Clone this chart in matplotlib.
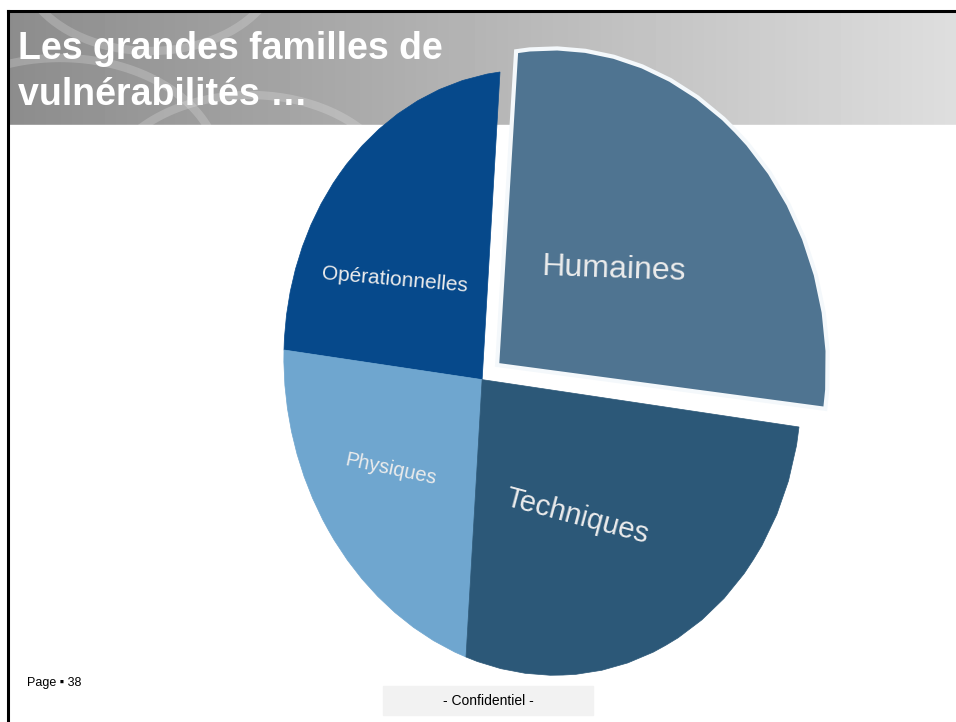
import numpy as np
import matplotlib
matplotlib.use("Agg")
import matplotlib.pyplot as plt
from matplotlib.transforms import Transform
from matplotlib.path import Path

plt.rcParams['font.family'] = ['Liberation Sans', 'DejaVu Sans']

# Données du graphique
categories = ['Humaines', 'Opérationnelles', 'Physiques', 'Techniques']
valeurs = [25, 25, 25, 25]
couleurs = ['#4f7491', '#06498b', '#6fa6cf', '#2c5878']

titre = 'Les grandes familles de\nvulnérabilités …'
page = 'Page ▪ 38'
pied = '- Confidentiel -'

R = 100.0
eclatement = [8, 0, 0, 0]

# style des étiquettes (rotation, taille, décalage)
rot_lab = [-2, -5, -12, -15]
taille_lab = [23, 15, 14.5, 21]
decal_lab = [(0, -6), (-2, -7), (0, 0), (0, 0)]

# coins de la perspective (en pixels) : droite, gauche, haut, bas
src = np.array([[R, 0], [-R, 0], [0, R], [0, -R]])
dst = np.array([[799, 427], [284, 350], [500, 72], [466, 657]])


def homographie(src, dst):
    A, b = [], []
    for (x, y), (u, v) in zip(src, dst):
        A.append([x, y, 1, 0, 0, 0, -u * x, -u * y]); b.append(u)
        A.append([0, 0, 0, x, y, 1, -v * x, -v * y]); b.append(v)
    h = np.linalg.solve(np.array(A, float), np.array(b, float))
    return np.append(h, 1).reshape(3, 3)


class Perspective(Transform):
    input_dims = output_dims = 2
    is_separable = False
    has_inverse = False

    def __init__(self, H):
        super().__init__()
        self.H = H

    def transform_non_affine(self, values):
        values = np.asarray(values, float)
        p = np.column_stack([values, np.ones(len(values))]) @ self.H.T
        return p[:, :2] / p[:, 2:3]

    def transform_path_non_affine(self, path):
        verts = np.vstack(path.to_polygons(closed_only=True))
        return Path(self.transform_non_affine(verts), closed=True)


persp = Perspective(homographie(src, dst))

fig = plt.figure(figsize=(9.56, 7.22), dpi=100)
ax = fig.add_axes([0, 0, 1, 1])

wedges, textes = ax.pie(valeurs, labels=categories, colors=couleurs,
                        explode=eclatement, startangle=0, radius=R,
                        labeldistance=0.55)
ax.set_aspect('auto')
ax.set_xlim(0, 956)
ax.set_ylim(722, 0)
ax.axis('off')

for i, w in enumerate(wedges):
    w.set_transform(persp + ax.transData)
    w.set_zorder(3)
    if eclatement[i] > 0:
        w.set_edgecolor('#f4f8fb')
        w.set_linewidth(3)
    else:
        w.set_edgecolor(couleurs[i])
        w.set_linewidth(0.5)

for t, r, s, (dx, dy) in zip(textes, rot_lab, taille_lab, decal_lab):
    x, y = t.get_position()
    t.set_position((x + dx, y + dy))
    t.set_transform(persp + ax.transData)
    t.set(rotation=r, fontsize=s, color='#ececec', ha='center', va='center',
          zorder=4)

# bandeau d'en-tête
grad = np.linspace(0.55, 0.87, 256)[None, :]
ax.imshow(grad, cmap='gray', vmin=0, vmax=1, aspect='auto',
          extent=[9, 956, 125, 11], zorder=1)
for cx, cy, rr in [(60, 170, 160), (250, 200, 150), (150, -40, 130)]:
    th = np.linspace(0, 2 * np.pi, 200)
    ax.plot(cx + rr * np.cos(th), cy + rr * 0.7 * np.sin(th), color='white',
            alpha=0.2, lw=6, zorder=1.5)
ax.axhspan(125, 722, color='white', zorder=1.6)
ax.axhspan(0, 10, color='white', zorder=1.6)
ax.axvspan(0, 8, color='white', zorder=1.6)

ax.text(18, 72, titre, color='white', fontsize=27, fontweight='bold',
        va='center', ha='left', linespacing=1.38, zorder=5)

# cadre
ax.plot([8, 956], [11, 11], color='black', lw=2.2, zorder=6)
ax.plot([8.5, 8.5], [11, 722], color='black', lw=2.2, zorder=6)

# pied de page
ax.add_patch(plt.Rectangle((383, 686), 210, 29, color='#f2f2f2', zorder=2))
ax.text(488, 701, pied, fontsize=10, ha='center', va='center', zorder=5)
ax.text(27, 683, page, fontsize=9, ha='left', va='center', zorder=5)

fig.savefig('out.png', dpi=100)
